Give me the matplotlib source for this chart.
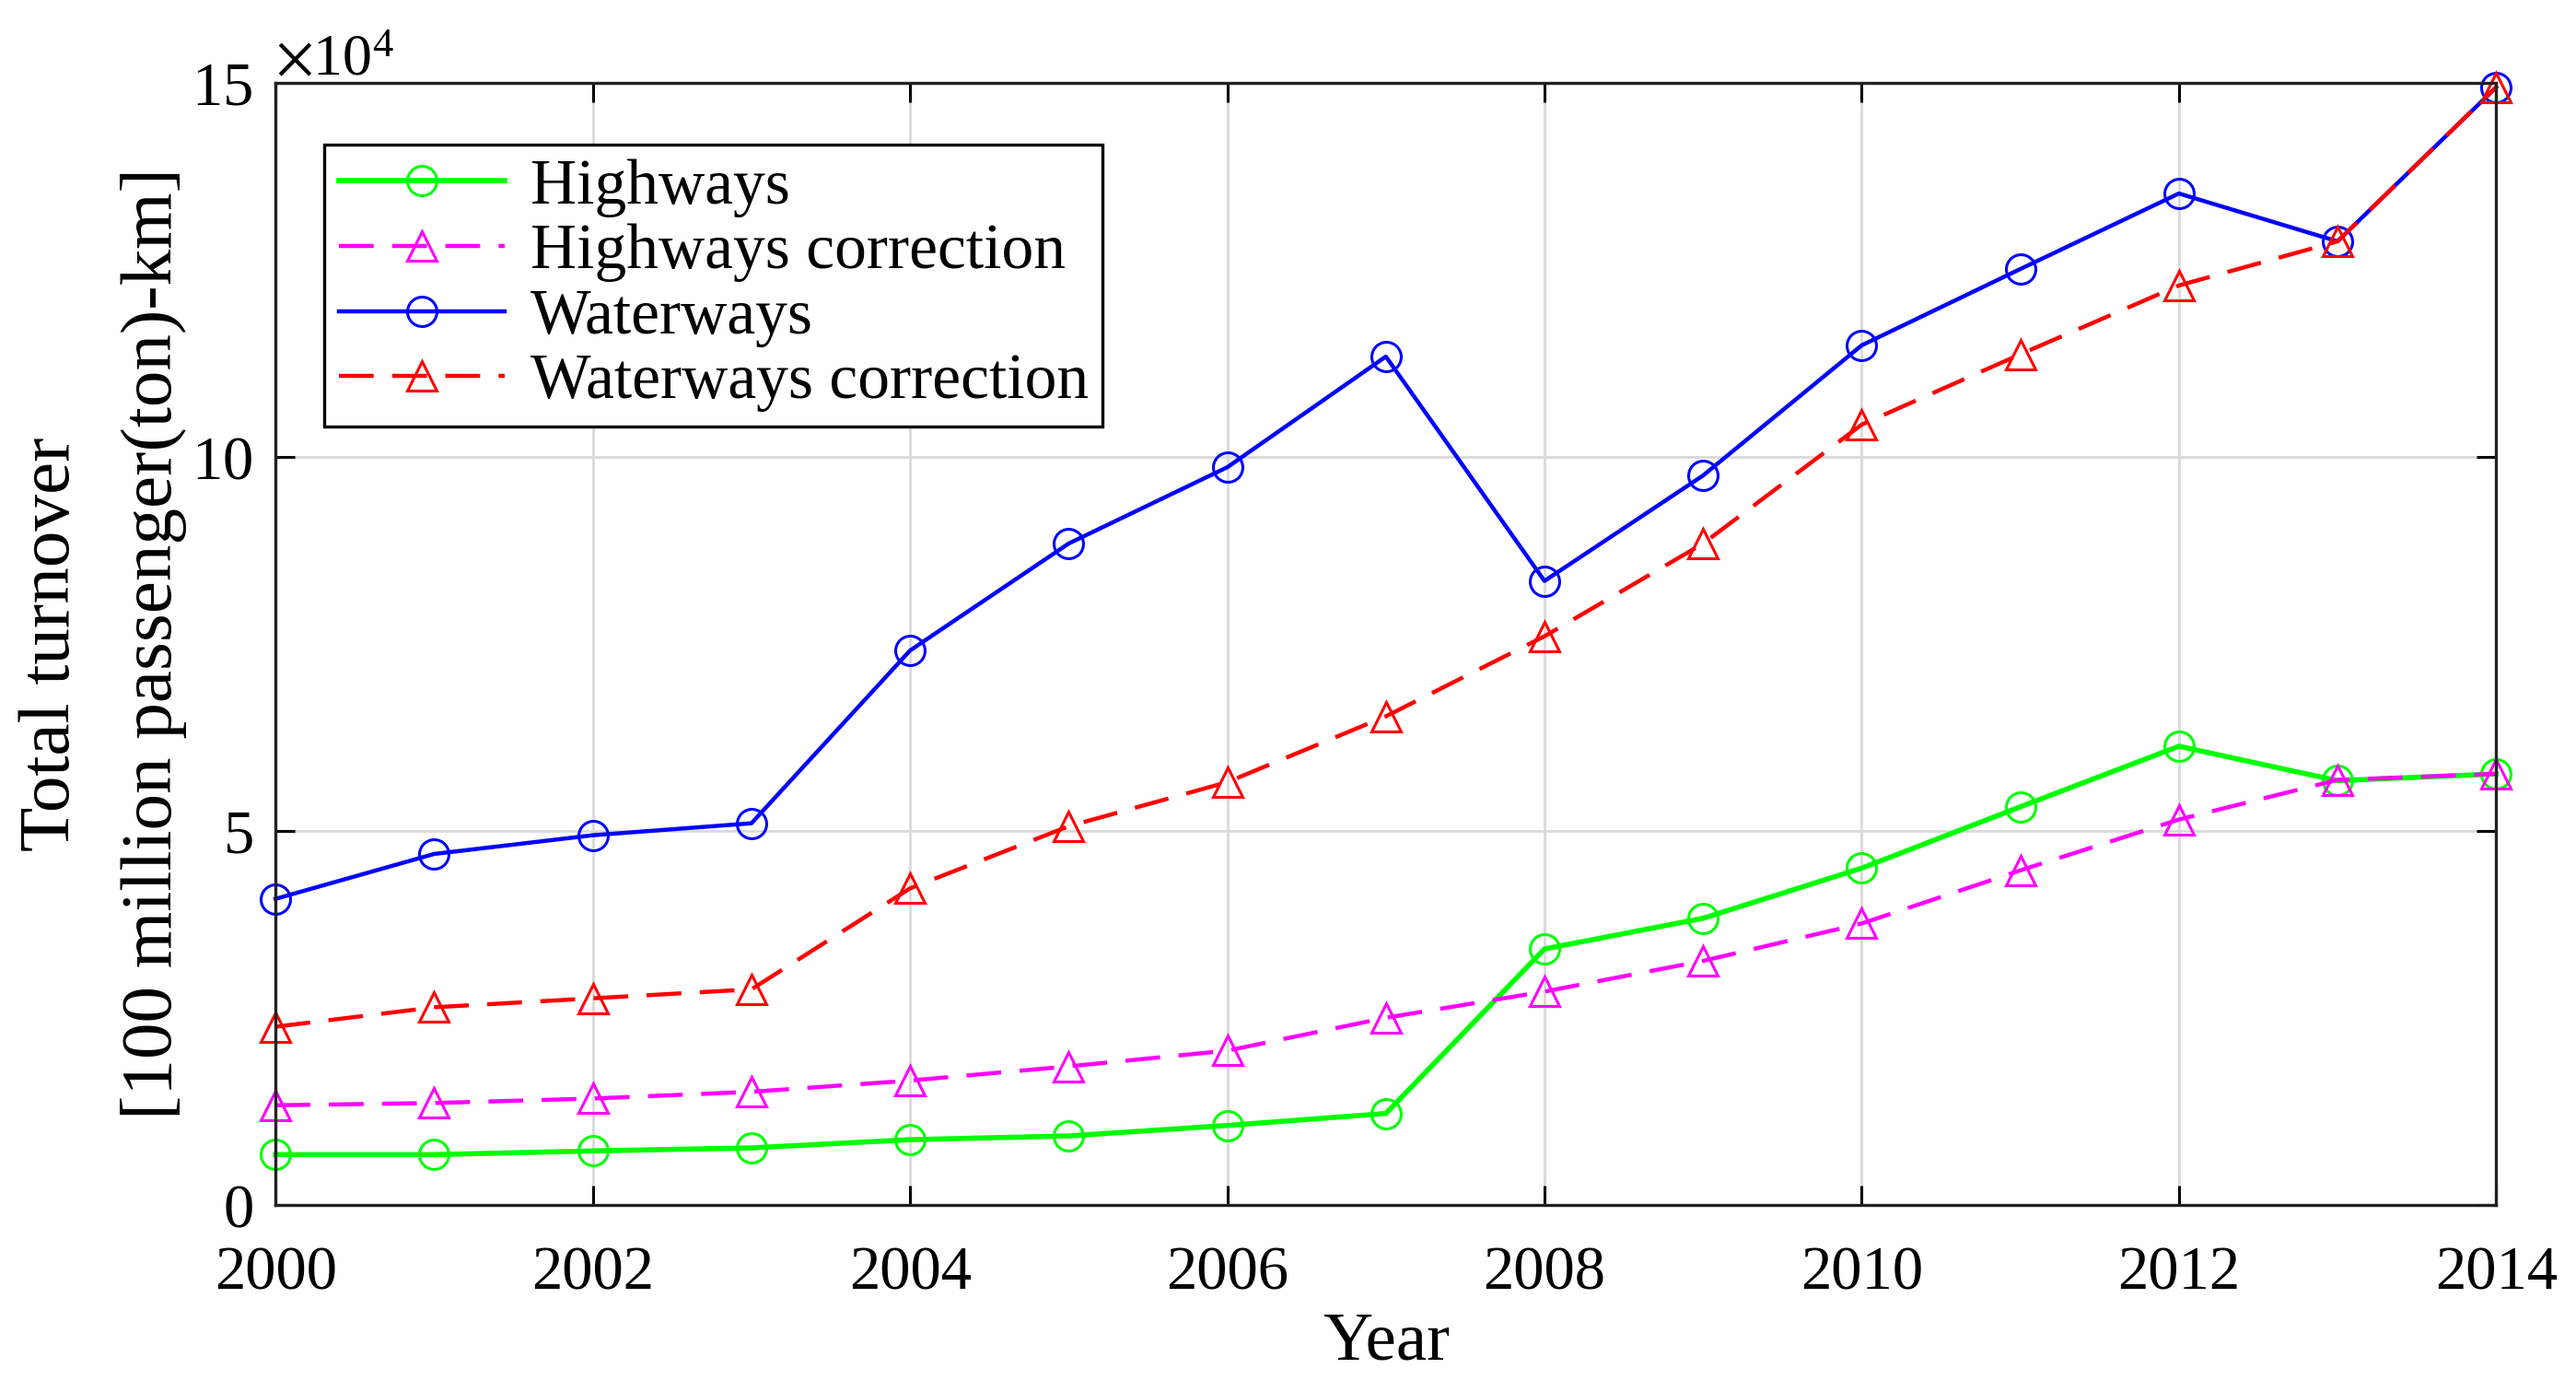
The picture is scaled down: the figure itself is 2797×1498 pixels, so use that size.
import numpy as np
import matplotlib
matplotlib.use("Agg")
import matplotlib.pyplot as plt
from matplotlib.ticker import ScalarFormatter

plt.rcParams["font.family"] = ["Liberation Serif", "DejaVu Serif"]
plt.rcParams["mathtext.fontset"] = "stix"

years = np.arange(2000, 2015)

highways = [0.67, 0.67, 0.72, 0.76, 0.87, 0.92, 1.06, 1.22, 3.42, 3.83, 4.50, 5.32, 6.13, 5.67, 5.76]
highways_corr = [1.33, 1.36, 1.42, 1.51, 1.66, 1.85, 2.06, 2.50, 2.85, 3.26, 3.76, 4.47, 5.15, 5.68, 5.76]
waterways = [4.09, 4.69, 4.94, 5.10, 7.41, 8.84, 9.86, 11.34, 8.34, 9.75, 11.49, 12.51, 13.52, 12.88, 14.94]
waterways_corr = [2.38, 2.64, 2.76, 2.88, 4.23, 5.06, 5.65, 6.53, 7.60, 8.84, 10.43, 11.37, 12.29, 12.88, 14.94]

scale = 1e4
x_ticks = [2000, 2002, 2004, 2006, 2008, 2010, 2012, 2014]
y_ticks = [0, 50000, 100000, 150000]

fig = plt.figure(figsize=(13.985, 7.49), dpi=200)
ax = fig.add_axes([0.107, 0.127, 0.862, 0.813])

ax.plot(years, np.array(highways) * scale, color="#00ff00", lw=2.0, marker="o",
        ms=11.5, mfc="none", mew=1.1, label="Highways", clip_on=False)
ax.plot(years, np.array(highways_corr) * scale, color="#ff00ff", lw=1.6, ls="--", dashes=(8.5, 4.5),
        marker="^", ms=11.5, mfc="none", mew=1.1, label="Highways correction", clip_on=False)
ax.plot(years, np.array(waterways) * scale, color="#0000ff", lw=1.6, marker="o",
        ms=11.5, mfc="none", mew=1.1, label="Waterways", clip_on=False)
ax.plot(years, np.array(waterways_corr) * scale, color="#ff0000", lw=1.6, ls="--", dashes=(8.5, 4.5),
        marker="^", ms=11.5, mfc="none", mew=1.1, label="Waterways correction", clip_on=False)

ax.set_xlim(2000, 2014)
ax.set_ylim(0, 150000)
ax.set_xticks(x_ticks)
ax.set_yticks(y_ticks)

fmt = ScalarFormatter(useMathText=True)
fmt.set_powerlimits((4, 4))
ax.yaxis.set_major_formatter(fmt)
ax.yaxis.get_offset_text().set_fontsize(23)

ax.grid(True, color="#d9d9d9", lw=1.0)
ax.set_axisbelow(True)
ax.tick_params(direction="in", length=7.5, width=1.1, top=True, right=True,
               labelsize=24)
ax.tick_params(axis="x", pad=16)
ax.tick_params(axis="y", pad=9)
for s in ax.spines.values():
    s.set_linewidth(1.2)
    s.set_color("#222222")

ax.set_xlabel("Year", fontsize=27, labelpad=4)
ax.set_ylabel("Total turnover\n[100 million passenger(ton)-km]", fontsize=28.5, labelpad=2,
              linespacing=1.7)

leg = ax.legend(loc="upper left", bbox_to_anchor=(0.022, 0.945), fontsize=25,
                frameon=True, fancybox=False, edgecolor="black", framealpha=1,
                handlelength=2.6, borderaxespad=0, labelspacing=0.1,
                handletextpad=0.4, borderpad=0.22)
leg.get_frame().set_linewidth(1.2)

fig.savefig("out.png", dpi=200)
